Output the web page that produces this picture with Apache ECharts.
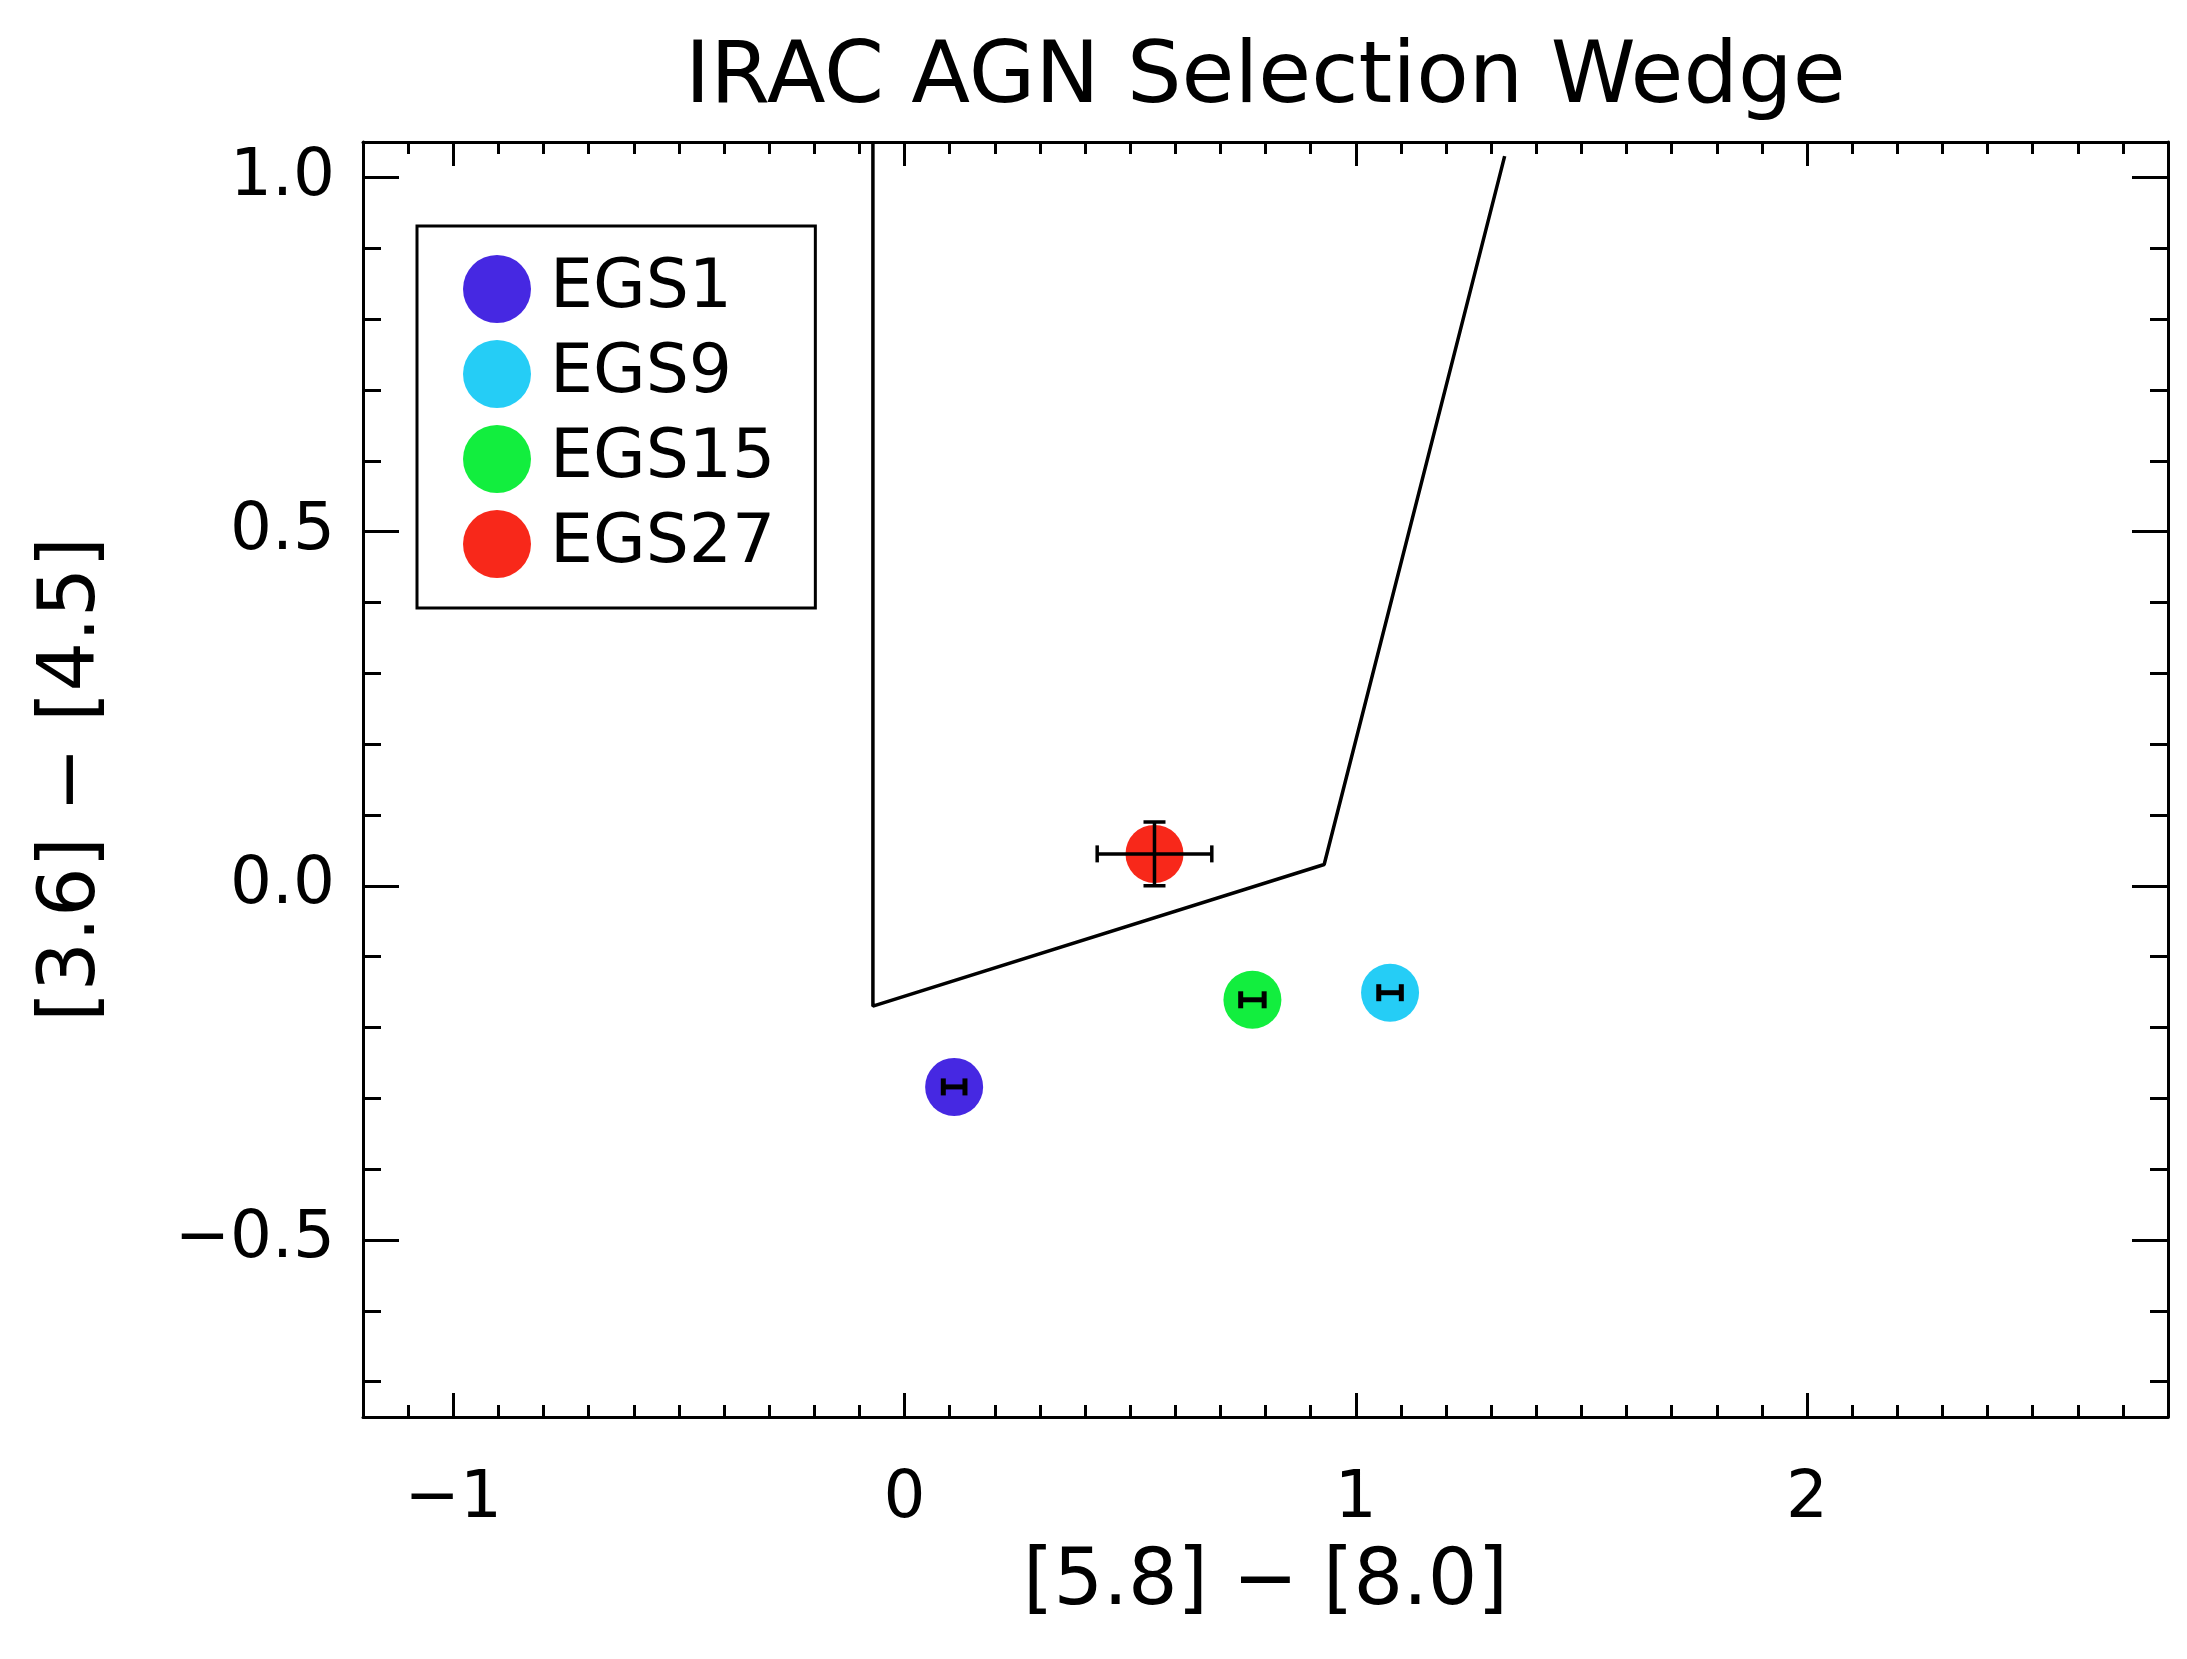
<!DOCTYPE html>
<html>
<head>
<meta charset="utf-8">
<script src="https://cdn.jsdelivr.net/npm/echarts@6/dist/echarts.min.js"></script>
<style>
html,body{margin:0;padding:0;background:#fff;}
#chart{width:2187px;height:1659px;}
</style>
</head>
<body>
<div id="chart"></div>
<script>
// ---- data ----
const names = ['EGS1', 'EGS9', 'EGS15', 'EGS27'];
const colors = ['#4628e2', '#25cdf6', '#12ee3e', '#f8281a'];
const xVals = [0.11, 1.076, 0.771, 0.554];
const yVals = [-0.284, -0.151, -0.161, 0.045];
const xErr = [0.024, 0.025, 0.026, 0.127];
const yErr = [0, 0, 0, 0.045];
const wedgeX = [-0.07, -0.07, 0.93, 1.33];
const wedgeY = [1.05, -0.17, 0.03, 1.03];
const xMajorTicks = [-1, 0, 1, 2];
const yMajorTicks = [-0.5, 0, 0.5, 1.0];
const xMinorTicks = [-1.1,-1.0,-0.9,-0.8,-0.7,-0.6,-0.5,-0.4,-0.3,-0.2,-0.1,0,0.1,0.2,0.3,0.4,0.5,0.6,0.7,0.8,0.9,1.0,1.1,1.2,1.3,1.4,1.5,1.6,1.7,1.8,1.9,2.0,2.1,2.2,2.3,2.4,2.5,2.6,2.7];
const yMinorTicks = [-0.7,-0.6,-0.5,-0.4,-0.3,-0.2,-0.1,0,0.1,0.2,0.3,0.4,0.5,0.6,0.7,0.8,0.9,1.0];
const titleText = 'IRAC AGN Selection Wedge';
const xName = '[5.8] \u2212 [8.0]';
const yName = '[3.6] \u2212 [4.5]';

const FONT = 'DejaVu Sans';
const X_MIN = -1.2, X_MAX = 2.8, Y_MIN = -0.75, Y_MAX = 1.05;

function fmtX(v){ return v < 0 ? '\u2212' + Math.abs(v) : String(v); }
function fmtY(v){ const s = Math.abs(v).toFixed(1); return v < 0 ? '\u2212' + s : s; }

function xAxisDef(pos, major, showLabel) {
  return {
    type: 'value', min: X_MIN, max: X_MAX, position: pos,
    axisLine: { show: major, onZero: false, lineStyle: { color: '#000', width: 3 } },
    axisTick: { show: true, inside: true, length: major ? 24 : 12,
      customValues: major ? xMajorTicks : xMinorTicks,
      lineStyle: { color: '#000', width: 3 } },
    axisLabel: { show: showLabel, customValues: xMajorTicks, formatter: fmtX,
      fontSize: 66, fontFamily: FONT, color: '#000', margin: 50 },
    splitLine: { show: false }, minorTick: { show: false },
    name: showLabel ? xName : '', nameLocation: 'middle', nameGap: 128,
    nameTextStyle: { fontSize: 78, fontFamily: FONT, color: '#000' }
  };
}
function yAxisDef(pos, major, showLabel) {
  return {
    type: 'value', min: Y_MIN, max: Y_MAX, position: pos,
    axisLine: { show: major, onZero: false, lineStyle: { color: '#000', width: 3 } },
    axisTick: { show: true, inside: true, length: major ? 36 : 18,
      customValues: major ? yMajorTicks : yMinorTicks,
      lineStyle: { color: '#000', width: 3 } },
    axisLabel: { show: showLabel, customValues: yMajorTicks, formatter: fmtY,
      fontSize: 66, fontFamily: FONT, color: '#000', margin: 28 },
    splitLine: { show: false }, minorTick: { show: false },
    name: showLabel ? yName : '', nameLocation: 'middle', nameGap: 250,
    nameTextStyle: { fontSize: 78, fontFamily: FONT, color: '#000' }
  };
}

const series = [];
series.push({
  type: 'line', name: 'wedge', xAxisIndex: 0, yAxisIndex: 0,
  data: wedgeX.map((x, i) => [x, wedgeY[i]]),
  showSymbol: false, symbol: 'none', clip: true,
  lineStyle: { color: '#000', width: 3.5 }, z: 2, silent: true
});
names.forEach((n, i) => {
  series.push({
    type: 'scatter', name: n, xAxisIndex: 0, yAxisIndex: 0,
    data: [[xVals[i], yVals[i]]], symbol: 'circle', symbolSize: 58,
    itemStyle: { color: colors[i], opacity: 1 }, z: 3
  });
});
series.push({
  type: 'custom', name: 'errors', xAxisIndex: 0, yAxisIndex: 0, z: 4, silent: true,
  data: names.map((n, i) => [xVals[i], yVals[i], xErr[i], yErr[i]]),
  renderItem: function (params, api) {
    const x = api.value(0), y = api.value(1), ex = api.value(2), ey = api.value(3);
    const l = api.coord([x - ex, y]), r = api.coord([x + ex, y]);
    const t = api.coord([x, y + ey]), b = api.coord([x, y - ey]);
    const lw = ex < 0.05 ? 5 : 3.5;
    const st = { stroke: '#000', lineWidth: lw };
    const ch = 8.5, cw = 11;
    const kids = [];
    if (ex > 0) {
      kids.push({ type: 'line', shape: { x1: l[0], y1: l[1], x2: r[0], y2: r[1] }, style: st });
      kids.push({ type: 'line', shape: { x1: l[0], y1: l[1] - ch, x2: l[0], y2: l[1] + ch }, style: st });
      kids.push({ type: 'line', shape: { x1: r[0], y1: r[1] - ch, x2: r[0], y2: r[1] + ch }, style: st });
    }
    if (ey > 0) {
      kids.push({ type: 'line', shape: { x1: t[0], y1: t[1], x2: b[0], y2: b[1] }, style: st });
      kids.push({ type: 'line', shape: { x1: t[0] - cw, y1: t[1], x2: t[0] + cw, y2: t[1] }, style: st });
      kids.push({ type: 'line', shape: { x1: b[0] - cw, y1: b[1], x2: b[0] + cw, y2: b[1] }, style: st });
    }
    return { type: 'group', children: kids };
  }
});

const chart = echarts.init(document.getElementById('chart'), null, { renderer: 'canvas' });
chart.setOption({
  animation: false,
  backgroundColor: '#fff',
  title: {
    text: titleText, left: 680, top: 32,
    textStyle: { fontSize: 86, fontWeight: 'normal', fontFamily: FONT, color: '#000' }
  },
  legend: {
    data: names.map(n => ({ name: n, icon: 'circle' })),
    orient: 'vertical', left: 417, top: 226,
    itemWidth: 68, itemHeight: 68, itemGap: 17,
    padding: [29, 40, 30, 46],
    borderColor: '#000', borderWidth: 3, backgroundColor: '#fff',
    selectedMode: false,
    textStyle: { fontSize: 68, fontFamily: FONT, color: '#000', padding: [0, 0, 0, 14] }
  },
  grid: { left: 363, top: 142, width: 1805, height: 1275, outerBoundsMode: 'none', containLabel: false },
  xAxis: [
    xAxisDef('bottom', true, true),
    xAxisDef('bottom', false, false),
    xAxisDef('top', true, false),
    xAxisDef('top', false, false)
  ],
  yAxis: [
    yAxisDef('left', true, true),
    yAxisDef('left', false, false),
    yAxisDef('right', true, false),
    yAxisDef('right', false, false)
  ],
  series: series
});
</script>
</body>
</html>
